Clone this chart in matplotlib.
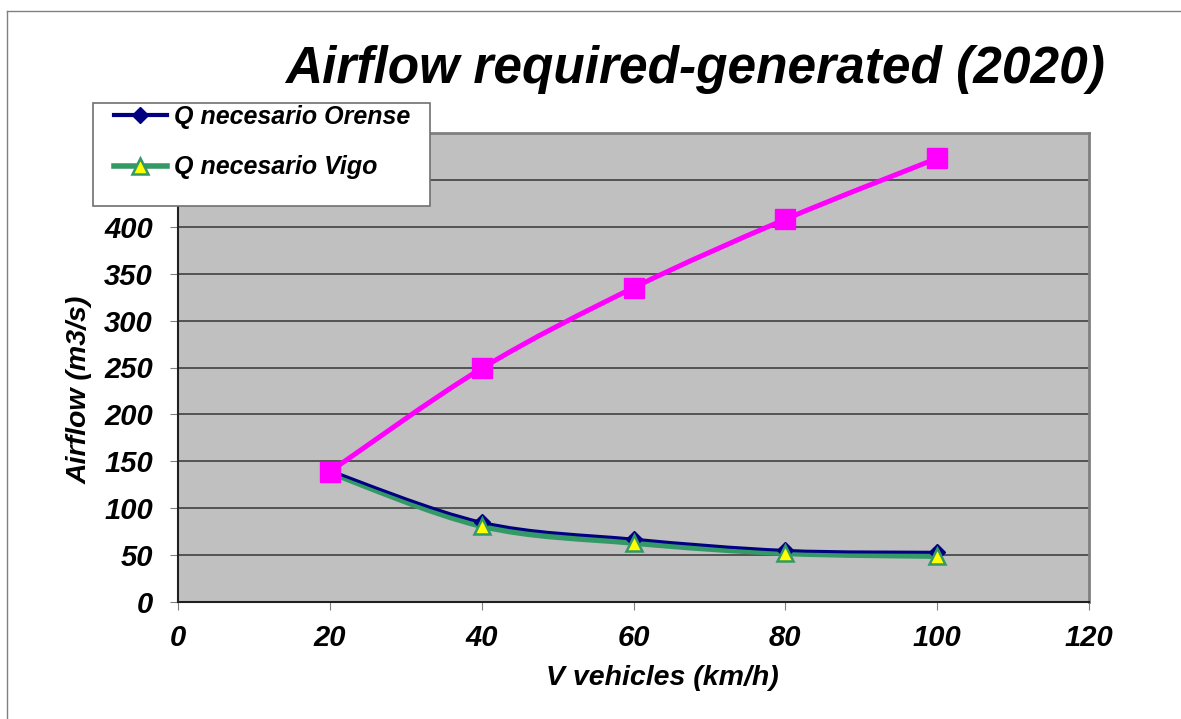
import matplotlib
matplotlib.use("Agg")
import matplotlib.pyplot as plt
from matplotlib.path import Path
from matplotlib.patches import PathPatch, Rectangle
from matplotlib.lines import Line2D
import numpy as np

plt.rcParams['font.family'] = ['Liberation Sans', 'DejaVu Sans']

# ── 데이터 ─────────────────────────────────────────
speed = [20, 40, 60, 80, 100]
q_generated = [139, 249, 335, 408, 473]
q_orense = [140, 85, 67, 55, 53]
q_vigo = [138, 81, 63, 52, 49]

title = "Airflow required-generated (2020)"
xlabel = "V vehicles (km/h)"
ylabel = "Airflow (m3/s)"
xticks = [0, 20, 40, 60, 80, 100, 120]
yticks = [0, 50, 100, 150, 200, 250, 300, 350, 400, 450, 500]

W, H = 1181, 719


def smooth_path(xs, ys):
    # Excel 스타일 스무딩 (베지어 곡선)
    pts = np.column_stack([xs, ys]).astype(float)
    n = len(pts)
    verts = [pts[0]]
    codes = [Path.MOVETO]
    for i in range(n - 1):
        p0 = pts[i - 1] if i > 0 else pts[i]
        p1 = pts[i]
        p2 = pts[i + 1]
        p3 = pts[i + 2] if i + 2 < n else pts[i + 1]
        c1 = p1 + (p2 - p0) / 6
        c2 = p2 - (p3 - p1) / 6
        verts += [c1, c2, p2]
        codes += [Path.CURVE4] * 3
    return Path(verts, codes)


fig = plt.figure(figsize=(W / 100, H / 100), dpi=100)
ax = fig.add_axes([178 / W, 1 - 602 / H, (1089 - 178) / W, (602 - 133) / H])
ax.set_facecolor("#C0C0C0")

# 선 (스무딩)
ax.add_patch(PathPatch(smooth_path(speed, q_vigo), fill=False,
                       edgecolor="#339966", lw=4.2, zorder=3, capstyle="butt"))
ax.add_patch(PathPatch(smooth_path(speed, q_orense), fill=False,
                       edgecolor="#000080", lw=2.2, zorder=4))
ax.plot(speed, q_orense, "D", color="#000080", ms=8, zorder=4)
ax.plot(speed, q_vigo, "^", color="#FFFF00", mec="#339966", mew=1.8,
        ms=12, zorder=5)
ax.add_patch(PathPatch(smooth_path(speed, q_generated), fill=False,
                       edgecolor="#FF00FF", lw=3.6, zorder=6))
ax.plot(speed, q_generated, "s", color="#FF00FF", ms=14, zorder=7)

ax.set_xlim(0, 120)
ax.set_ylim(0, 500)
ax.set_xticks(xticks)
ax.set_yticks(yticks)
ax.yaxis.grid(True, color="#404040", lw=1.2)
ax.set_axisbelow(True)

for side in ["top", "right"]:
    ax.spines[side].set_color("#808080")
    ax.spines[side].set_linewidth(2)
for side in ["left", "bottom"]:
    ax.spines[side].set_color("#202020")
    ax.spines[side].set_linewidth(1.5)

tick_font = dict(fontsize=21, fontweight="bold", fontstyle="italic")
ax.set_xticklabels([str(t) for t in xticks], **tick_font)
ax.set_yticklabels([str(t) for t in yticks], **tick_font)
ax.tick_params(axis="x", length=6, color="#808080", pad=10)
ax.tick_params(axis="y", length=6, color="#808080", pad=12)

fig.text(695 / W, 1 - 69 / H, title, ha="center", va="center",
         fontsize=37, fontweight="bold", fontstyle="italic")
fig.text(662 / W, 1 - 678 / H, xlabel, ha="center", va="center",
         fontsize=20.5, fontweight="bold", fontstyle="italic")
fig.text(80 / W, 1 - 390 / H, ylabel, ha="center", va="center", rotation=90,
         fontsize=20.5, fontweight="bold", fontstyle="italic")

# 범례 (테두리는 직접 그림)
fig.add_artist(Rectangle((93 / W, 1 - 206 / H), (430 - 93) / W, (206 - 103) / H,
                         transform=fig.transFigure, facecolor="white",
                         edgecolor="#707070", lw=1.2, zorder=9))
handles = [
    Line2D([], [], color="#000080", lw=3, marker="D", ms=8),
    Line2D([], [], color="#339966", lw=4, marker="^", ms=11,
           mfc="#FFFF00", mec="#339966", mew=1.8),
]
leg = fig.legend(handles, ["Q necesario Orense", "Q necesario Vigo"],
                 loc="upper left", bbox_to_anchor=(114 / W, 1 - 105 / H),
                 prop=dict(size=18, weight="bold", style="italic"),
                 frameon=False, handlelength=2.1, handletextpad=0.3,
                 labelspacing=1.05, borderpad=0, borderaxespad=0)
leg.set_zorder(10)

# 슬라이드 테두리
fig.add_artist(Line2D([7 / W, 7 / W], [0, 1 - 11 / H],
                      transform=fig.transFigure, color="#808080", lw=1))
fig.add_artist(Line2D([7 / W, 1], [1 - 11 / H, 1 - 11 / H],
                      transform=fig.transFigure, color="#808080", lw=1))

fig.savefig("out.png", dpi=100)
